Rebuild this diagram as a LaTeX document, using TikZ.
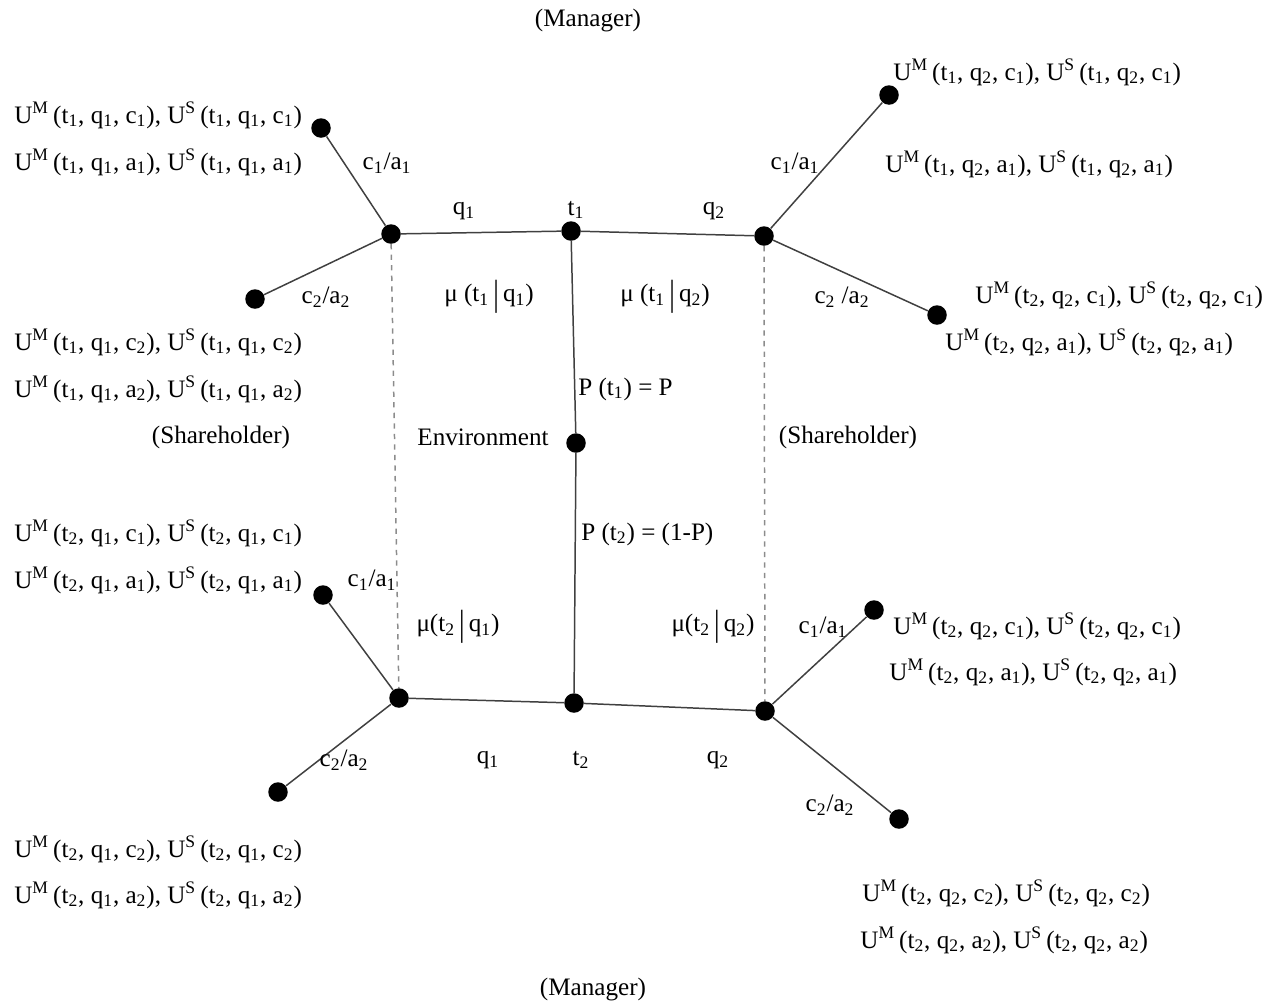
\documentclass[tikz,border=0pt]{standalone}
\usepackage{fontspec}
\usepackage{graphicx}
\setmainfont{Liberation Serif}
\newcommand\mysb[1]{\textsubscript{#1}}
\newcommand\mysp[1]{\textsuperscript{#1}}
\newcommand\mybar{\raisebox{-0.35ex}{\scalebox{1.1}[1.45]{|}}}
\newcommand\payof[4]{U\mysp{M}\,(t\mysb{#1}, q\mysb{#2}, #3\mysb{#4}), U\mysp{S}\,(t\mysb{#1}, q\mysb{#2}, #3\mysb{#4})}
\begin{document}
\begin{tikzpicture}[x=0.02cm,y=-0.02cm,
  dot/.style={circle,fill=black,inner sep=0pt,minimum size=0.39cm},
  edgeline/.style={draw=black!75,line width=0.85pt},
  dashline/.style={draw=black!45,line width=0.85pt,dashed},
  lbl/.style={inner sep=0pt,font=\fontsize{14.3}{17}\selectfont},
  pay/.style={lbl,anchor=base west}]
\useasboundingbox (0,0) rectangle (1277,1005);
% decision nodes
\node[dot] (L1) at (391,234) {};
\node[dot] (T1) at (571,231) {};
\node[dot] (R1) at (764,236) {};
\node[dot] (E)  at (576,443) {};
\node[dot] (L2) at (399,698) {};
\node[dot] (T2) at (574,703) {};
\node[dot] (R2) at (765,711) {};
% terminal nodes
\node[dot] (la) at (321,128) {};
\node[dot] (lb) at (255,299) {};
\node[dot] (ra) at (889,95) {};
\node[dot] (rb) at (937,315) {};
\node[dot] (lc) at (323,595) {};
\node[dot] (ld) at (278,792) {};
\node[dot] (rc) at (874,610) {};
\node[dot] (rd) at (899,819) {};
% connectors
\draw[dashline] (L1) -- (L2);
\draw[dashline] (R1) -- (R2);
\draw[edgeline] (L1) -- (T1);
\draw[edgeline] (T1) -- (R1);
\draw[edgeline] (T1) -- (E);
\draw[edgeline] (E) -- (T2);
\draw[edgeline] (L2) -- (T2);
\draw[edgeline] (T2) -- (R2);
\draw[edgeline] (L1) -- (la);
\draw[edgeline] (L1) -- (lb);
\draw[edgeline] (R1) -- (ra);
\draw[edgeline] (R1) -- (rb);
\draw[edgeline] (L2) -- (lc);
\draw[edgeline] (L2) -- (ld);
\draw[edgeline] (R2) -- (rc);
\draw[edgeline] (R2) -- (rd);
% players
\node[lbl] (m1) at (588,20) {(Manager)};
\node[lbl] (m2) at (593,989) {(Manager)};
\node[lbl] (s1) at (221,437) {(Shareholder)};
\node[lbl] (s2) at (848,437) {(Shareholder)};
\node[lbl] (env) at (483,437) {Environment};
% branch labels
\node[lbl] (b1) at (387,163) {c\mysb{1}/a\mysb{1}};
\node[lbl] (b2) at (326,297) {c\mysb{2}/a\mysb{2}};
\node[lbl] (b3) at (795,163) {c\mysb{1}/a\mysb{1}};
\node[lbl] (b4) at (842,297) {c\mysb{2} /a\mysb{2}};
\node[lbl] (b5) at (372,580) {c\mysb{1}/a\mysb{1}};
\node[lbl] (b6) at (344,760) {c\mysb{2}/a\mysb{2}};
\node[lbl] (b7) at (823,627) {c\mysb{1}/a\mysb{1}};
\node[lbl] (b8) at (830,805) {c\mysb{2}/a\mysb{2}};
\node[lbl] (q1a) at (464,211) {q\mysb{1}};
\node[lbl] (t1l) at (576,210) {t\mysb{1}};
\node[lbl] (q2a) at (714,211) {q\mysb{2}};
\node[lbl] (q1b) at (488,760) {q\mysb{1}};
\node[lbl] (t2l) at (581,760) {t\mysb{2}};
\node[lbl] (q2b) at (718,760) {q\mysb{2}};
% beliefs and probabilities
\node[lbl] (mu1) at (489,297) {μ (t\mysb{1}\,\mybar\,q\mysb{1})};
\node[lbl] (mu2) at (665,297) {μ (t\mysb{1}\,\mybar\,q\mysb{2})};
\node[lbl] (mu3) at (458,627) {μ(t\mysb{2}\,\mybar\,q\mysb{1})};
\node[lbl] (mu4) at (713,627) {μ(t\mysb{2}\,\mybar\,q\mysb{2})};
\node[lbl,anchor=west] (p1) at (578,389) {P (t\mysb{1}) = P};
\node[lbl,anchor=west] (p2) at (581,534) {P (t\mysb{2}) = (1-P)};
% payoffs
\node[pay] (u1) at (14,123) {\payof{1}{1}{c}{1}};
\node[pay] (u2) at (14,170) {\payof{1}{1}{a}{1}};
\node[pay] (u3) at (14,350) {\payof{1}{1}{c}{2}};
\node[pay] (u4) at (14,397) {\payof{1}{1}{a}{2}};
\node[pay] (u5) at (893,80) {\payof{1}{2}{c}{1}};
\node[pay] (u6) at (885,172) {\payof{1}{2}{a}{1}};
\node[pay] (u7) at (975,303) {\payof{2}{2}{c}{1}};
\node[pay] (u8) at (945,350) {\payof{2}{2}{a}{1}};
\node[pay] (u9) at (14,541) {\payof{2}{1}{c}{1}};
\node[pay] (u10) at (14,588) {\payof{2}{1}{a}{1}};
\node[pay] (u11) at (893,634) {\payof{2}{2}{c}{1}};
\node[pay] (u12) at (889,680) {\payof{2}{2}{a}{1}};
\node[pay] (u13) at (14,857) {\payof{2}{1}{c}{2}};
\node[pay] (u14) at (14,903) {\payof{2}{1}{a}{2}};
\node[pay] (u15) at (862,901) {\payof{2}{2}{c}{2}};
\node[pay] (u16) at (860,948) {\payof{2}{2}{a}{2}};
\end{tikzpicture}
\end{document}
